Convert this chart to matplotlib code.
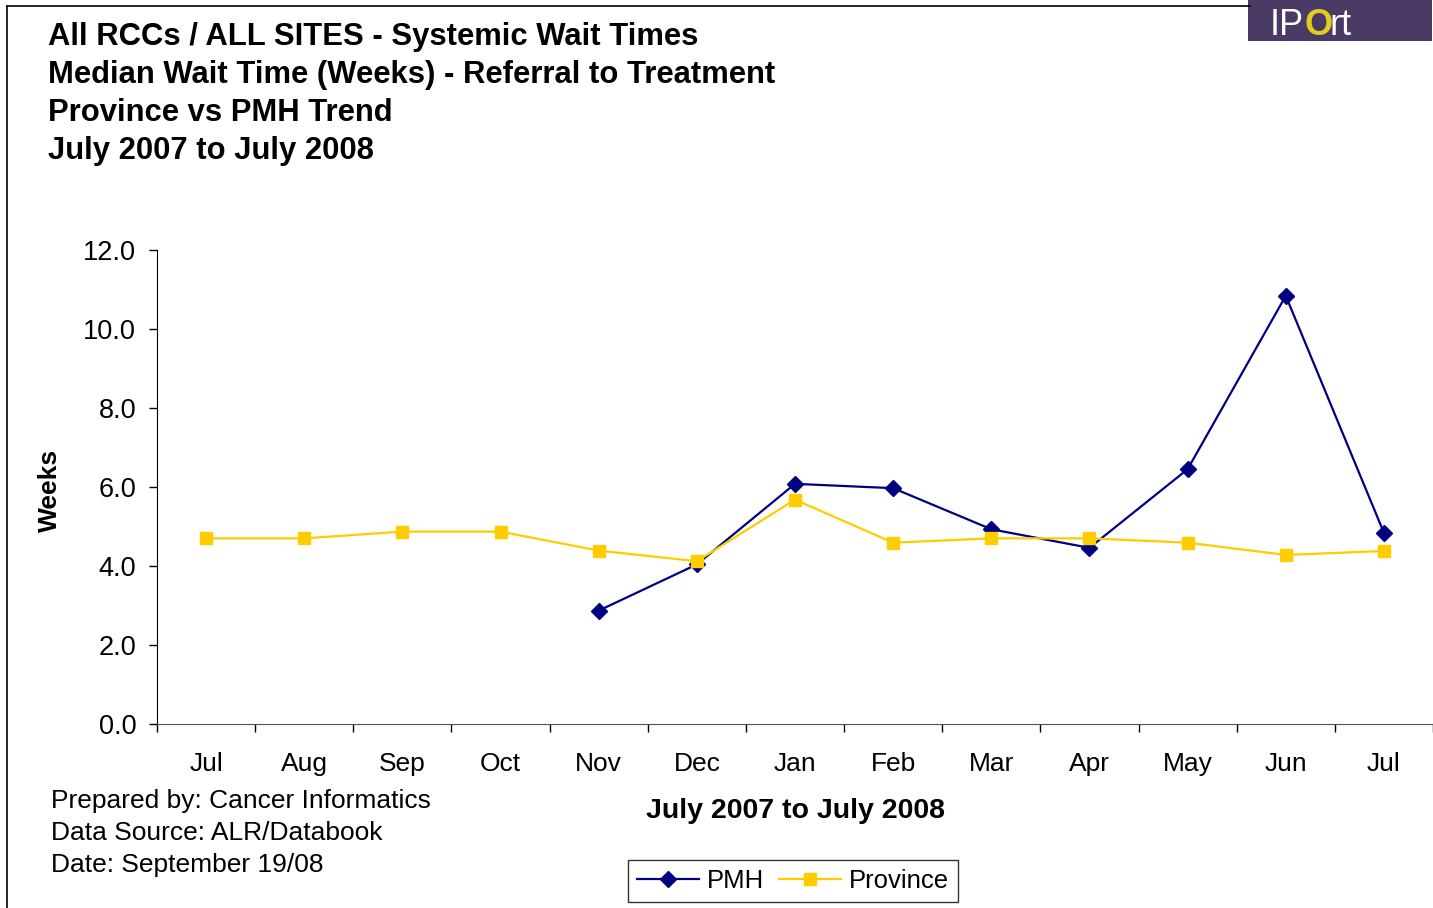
import numpy as np
import matplotlib
matplotlib.use('Agg')
import matplotlib.pyplot as plt
from matplotlib.lines import Line2D
from matplotlib.patches import Rectangle

plt.rcParams['font.family'] = ['Liberation Sans', 'DejaVu Sans']

months = ['Jul', 'Aug', 'Sep', 'Oct', 'Nov', 'Dec', 'Jan', 'Feb', 'Mar', 'Apr', 'May', 'Jun', 'Jul']
pmh = [np.nan, np.nan, np.nan, np.nan, 2.87, 4.04, 6.08, 5.97, 4.93, 4.46, 6.45, 10.84, 4.84]
province = [4.70, 4.70, 4.87, 4.87, 4.39, 4.12, 5.68, 4.59, 4.70, 4.70, 4.59, 4.28, 4.38]

titleLines = ['All RCCs / ALL SITES - Systemic Wait Times',
              'Median Wait Time (Weeks) - Referral to Treatment',
              'Province vs PMH Trend',
              'July 2007 to July 2008']
footLines = ['Prepared by: Cancer Informatics',
             'Data Source: ALR/Databook',
             'Date: September 19/08']

W, H = 1433, 908
fig = plt.figure(figsize=(W / 100, H / 100), dpi=100)

def fx(px):
    return px / W

def fy(py):
    return 1 - py / H

ax = fig.add_axes([fx(157), fy(724), fx(1433) - fx(157), fy(250) - fy(724)])

x = np.arange(len(months))
ax.plot(x, pmh, color='#000080', lw=1.6, marker='D', markersize=8.5, label='PMH', zorder=3)
ax.plot(x, province, color='#FFCC00', lw=1.6, marker='s', markersize=9, label='Province', zorder=4)

ax.set_xlim(-0.5, len(months) - 0.5)
ax.set_ylim(0, 12)
ax.set_yticks(np.arange(0, 12.1, 2))
ax.set_yticklabels(['%.1f' % v for v in np.arange(0, 12.1, 2)])
ax.set_xticks(x)
ax.set_xticklabels(months)
ax.set_xticks(np.arange(-0.5, len(months)), minor=True)
ax.tick_params(axis='x', which='major', length=0, pad=20, labelsize=19)
ax.tick_params(axis='x', which='minor', length=6, width=1, direction='out', color='black')
ax.tick_params(axis='y', length=6, width=1, direction='out', pad=9, labelsize=19.5)

for s in ['top', 'right']:
    ax.spines[s].set_visible(False)
ax.spines['left'].set_color('black')
ax.spines['bottom'].set_color('#555555')

fig.text(fx(50), fy(490), 'Weeks', rotation=90, fontsize=19, fontweight='bold',
         ha='center', va='center')
fig.text(fx(795), fy(811), 'July 2007 to July 2008', fontsize=20.5, fontweight='bold',
         ha='center', va='center')

for i, line in enumerate(titleLines):
    fig.text(fx(48), fy(37 + 38 * i), line, fontsize=22.3, fontweight='bold',
             ha='left', va='center')

for i, line in enumerate(footLines):
    fig.text(fx(51), fy(801 + 32 * i), line, fontsize=19, ha='left', va='center')

leg = fig.legend(loc='center', bbox_to_anchor=(fx(793), fy(881)), ncol=2, fontsize=18.5,
                 frameon=True, fancybox=False, edgecolor='black', handlelength=2.4,
                 handletextpad=0.3, columnspacing=0.6, borderpad=0.35)
leg.get_frame().set_linewidth(1.0)

# outer border
fig.add_artist(Line2D([fx(7), fx(7)], [fy(6), 0], color='black', lw=1.2))
fig.add_artist(Line2D([fx(7), fx(1250)], [fy(6), fy(6)], color='black', lw=1.2))

# logo
fig.add_artist(Rectangle((fx(1248), fy(41)), fx(1432) - fx(1248), fy(0) - fy(41),
                         transform=fig.transFigure, facecolor='#4A3B66', edgecolor='none'))
fig.text(fx(1270), fy(35), 'IP', color='white', fontsize=26, ha='left', va='baseline')
fig.text(fx(1304), fy(35), 'O', color='#E6CC1A', fontsize=26, fontweight='bold',
         ha='left', va='baseline')
fig.text(fx(1330), fy(35), 'rt', color='white', fontsize=26, ha='left', va='baseline')

fig.savefig('out.png', dpi=100)
